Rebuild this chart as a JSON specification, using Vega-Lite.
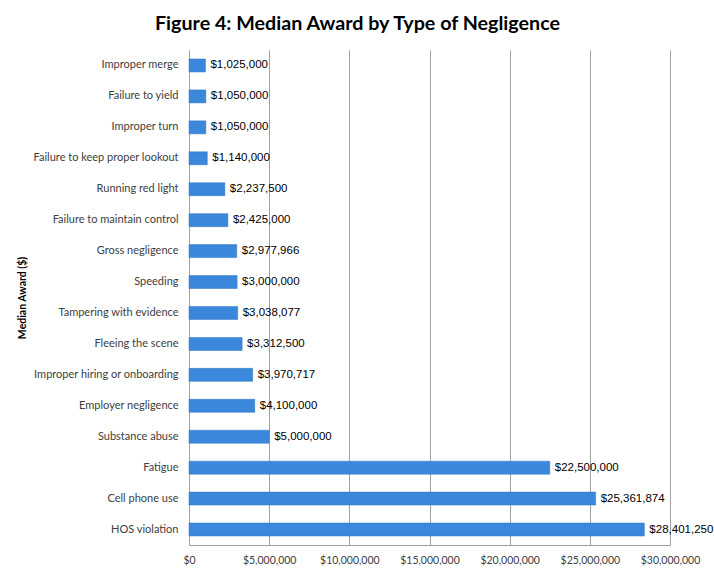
{
  "$schema": "https://vega.github.io/schema/vega-lite/v6.json",
  "autosize": {"type": "none"},
  "padding": {"left": 189, "top": 50, "right": 44, "bottom": 31},
  "width": 481,
  "height": 495,
  "background": "white",
  "title": {
    "text": "Figure 4: Median Award by Type of Negligence",
    "font": "Lato",
    "fontSize": 19.7,
    "fontWeight": "bold",
    "color": "#000000",
    "anchor": "middle",
    "frame": "group",
    "offset": 16,
    "dx": -72
  },
  "data": {
    "values": [
      {"type": "Improper merge", "award": 1025000},
      {"type": "Failure to yield", "award": 1050000},
      {"type": "Improper turn", "award": 1050000},
      {"type": "Failure to keep proper lookout", "award": 1140000},
      {"type": "Running red light", "award": 2237500},
      {"type": "Failure to maintain control", "award": 2425000},
      {"type": "Gross negligence", "award": 2977966},
      {"type": "Speeding", "award": 3000000},
      {"type": "Tampering with evidence", "award": 3038077},
      {"type": "Fleeing the scene", "award": 3312500},
      {"type": "Improper hiring or onboarding", "award": 3970717},
      {"type": "Employer negligence", "award": 4100000},
      {"type": "Substance abuse", "award": 5000000},
      {"type": "Fatigue", "award": 22500000},
      {"type": "Cell phone use", "award": 25361874},
      {"type": "HOS violation", "award": 28401250}
    ]
  },
  "encoding": {
    "y": {
      "field": "type",
      "type": "nominal",
      "sort": null,
      "scale": {"paddingInner": 0.58, "paddingOuter": 0.29},
      "axis": {
        "title": "Median Award ($)",
        "titleFont": "Lato",
        "titleFontSize": 10.5,
        "titleFontWeight": "bold",
        "titleColor": "#000000",
        "titlePadding": 5,
        "labelFont": "Lato",
        "labelFontSize": 11,
        "labelColor": "#404040",
        "labelPadding": 11,
        "ticks": false,
        "domainColor": "#a0a0a0",
        "domainWidth": 1,
        "labelLimit": 300
      }
    },
    "x": {
      "field": "award",
      "type": "quantitative",
      "scale": {"domain": [0, 30000000], "nice": false},
      "axis": {
        "title": null,
        "values": [0, 5000000, 10000000, 15000000, 20000000, 25000000, 30000000],
        "format": "$,.0f",
        "labelFont": "Lato",
        "labelFontSize": 10.5,
        "labelColor": "#404040",
        "labelPadding": 10,
        "labelOverlap": false,
        "labelFlush": false,
        "ticks": false,
        "grid": true,
        "gridColor": "#a0a0a0",
        "gridWidth": 1,
        "domainColor": "#a0a0a0",
        "domainWidth": 1
      }
    }
  },
  "layer": [
    {
      "mark": {"type": "bar", "color": "#3A87DB", "stroke": "#2F74C2", "strokeWidth": 0.5}
    },
    {
      "mark": {
        "type": "text",
        "align": "left",
        "baseline": "middle",
        "dx": 5,
        "font": "Liberation Sans",
        "fontSize": 11.5,
        "color": "#000000"
      },
      "encoding": {
        "text": {"field": "award", "type": "quantitative", "format": "$,.0f"}
      }
    }
  ],
  "config": {"view": {"stroke": null}}
}
